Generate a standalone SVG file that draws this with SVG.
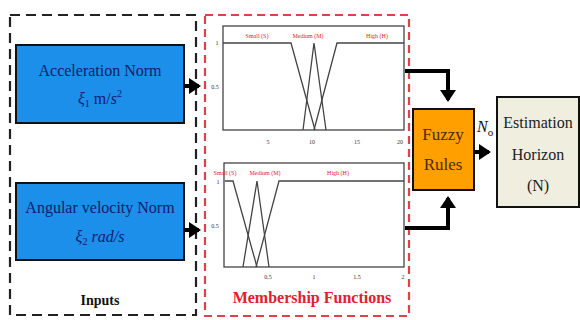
<svg xmlns="http://www.w3.org/2000/svg" width="580" height="320" viewBox="0 0 580 320">
<style>
text{font-family:'Liberation Serif','DejaVu Serif',serif}
.blue{fill:#1c8fea;stroke:#111;stroke-width:2}
.btxt{font-size:16px;fill:#10206a;text-anchor:middle}
.frame{fill:#fff;stroke:#444;stroke-width:1.3}
.mf{fill:none;stroke:#444;stroke-width:1.3}
.tiny{font-size:6px;fill:#333;text-anchor:middle}
.lab{font-size:6px;fill:#e02030;text-anchor:middle}
.conn{fill:none;stroke:#000;stroke-width:4}
</style>
<defs>
<marker id="ah" markerWidth="4" markerHeight="4" refX="2.5" refY="2" orient="auto" markerUnits="strokeWidth">
<path d="M0,0 L3,2 L0,4 z" fill="#000"/>
</marker>
</defs>
<rect width="580" height="320" fill="#fff"/>

<g id="inputs-group">
<rect x="10" y="15" width="186" height="300" fill="none" stroke="#222" stroke-width="2.2" stroke-dasharray="10,6"/>
<text x="100" y="305" font-size="14" font-weight="bold" text-anchor="middle" fill="#111">Inputs</text>
</g>

<g id="acc-norm">
<rect x="16" y="45" width="168" height="78" class="blue"/>
<text x="100" y="76" class="btxt">Acceleration Norm</text>
<text x="100" y="104" class="btxt"><tspan font-style="italic">ξ</tspan><tspan font-size="10" dy="3">1</tspan><tspan dy="-3">  m/</tspan><tspan font-style="italic">s</tspan><tspan font-size="10" dy="-7">2</tspan></text>
</g>

<g id="ang-norm">
<rect x="16" y="183" width="168" height="77" class="blue"/>
<text x="100" y="213" class="btxt">Angular velocity Norm</text>
<text x="100" y="242" class="btxt"><tspan font-style="italic">ξ</tspan><tspan font-size="10" dy="3">2</tspan><tspan dy="-3" font-style="italic">  rad/s</tspan></text>
</g>

<g id="membership-group">
<rect x="205" y="15" width="204" height="301" fill="none" stroke="#e0404a" stroke-width="2.2" stroke-dasharray="8,5"/>
<text x="312" y="303" font-size="16" font-weight="bold" text-anchor="middle" fill="#e02030">Membership  Functions</text>
</g>

<g id="mf-plot-1">
<rect x="223" y="26" width="181" height="104" class="frame"/>
<polyline class="mf" points="223,43 291,43 315,130"/>
<polyline class="mf" points="303,130 314,43 326,130"/>
<polyline class="mf" points="314,130 337,43 404,43"/>
<text x="257" y="38" class="lab">Small (S)</text>
<text x="308" y="38" class="lab">Medium (M)</text>
<text x="377" y="38" class="lab">High (H)</text>
<text x="217" y="45" class="tiny">1</text>
<text x="215" y="89" class="tiny">0.5</text>
<text x="268" y="144" class="tiny">5</text>
<text x="312" y="144" class="tiny">10</text>
<text x="357" y="144" class="tiny">15</text>
<text x="400" y="144" class="tiny">20</text>
</g>

<g id="mf-plot-2">
<rect x="224" y="163" width="180" height="104" class="frame"/>
<polyline class="mf" points="225,181 233,181 257,267"/>
<polyline class="mf" points="243,267 257,181 269,267"/>
<polyline class="mf" points="256,267 279,181 404,181"/>
<text x="225" y="175" class="lab">Small (S)</text>
<text x="265" y="175" class="lab">Medium (M)</text>
<text x="338" y="175" class="lab">High (H)</text>
<text x="218" y="184" class="tiny">1</text>
<text x="215" y="228" class="tiny">0.5</text>
<text x="268" y="279" class="tiny">0.5</text>
<text x="314" y="279" class="tiny">1</text>
<text x="357" y="279" class="tiny">1.5</text>
<text x="403" y="279" class="tiny">2</text>
</g>

<g id="fuzzy-rules">
<rect x="413" y="109" width="61" height="81" fill="#ffa000" stroke="#111" stroke-width="2"/>
<text x="443" y="140" font-size="17" text-anchor="middle" fill="#4a2a00">Fuzzy</text>
<text x="443" y="170" font-size="17" text-anchor="middle" fill="#4a2a00">Rules</text>
</g>

<g id="estimation-horizon">
<rect x="497" y="97" width="82" height="110" fill="#efeedf" stroke="#111" stroke-width="2"/>
<text x="538" y="128" font-size="16" text-anchor="middle" fill="#222">Estimation</text>
<text x="538" y="160" font-size="16" text-anchor="middle" fill="#222">Horizon</text>
<text x="538" y="191" font-size="16" text-anchor="middle" fill="#222">(N)</text>
</g>

<g id="connectors">
<line x1="184" y1="86" x2="199" y2="86" class="conn" marker-end="url(#ah)"/>
<line x1="184" y1="230" x2="199" y2="230" class="conn" marker-end="url(#ah)"/>
<polyline points="405,71 448,71 448,100" class="conn" marker-end="url(#ah)"/>
<polyline points="405,228 448,228 448,198" class="conn" marker-end="url(#ah)"/>
<line x1="474" y1="152" x2="489" y2="152" class="conn" marker-end="url(#ah)"/>
<text x="477" y="132" font-size="16" font-style="italic" fill="#111">N<tspan font-size="11" dy="4" font-style="normal">o</tspan></text>
</g>
</svg>
